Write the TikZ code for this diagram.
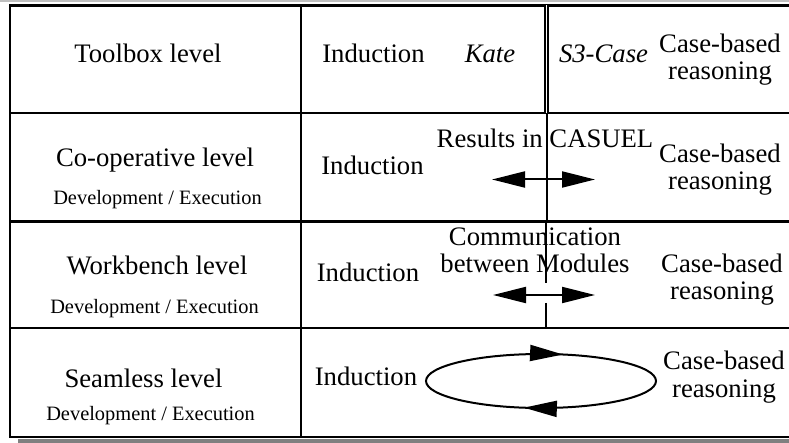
\documentclass[tikz,border=0pt]{standalone}
\usepackage{fontspec}
\setmainfont{Liberation Serif}
\usetikzlibrary{arrows.meta,decorations.markings}
\tikzset{
  rule/.style={line width=2.4pt},
  divider/.style={line width=2pt},
  txt/.style={anchor=base,inner sep=0pt,align=center,font=\fontsize{26.7}{27.5}\selectfont},
  sub/.style={anchor=base,inner sep=0pt,font=\fontsize{20.4}{22}\selectfont},
  bighead/.tip={Triangle[length=33pt,width=16pt]},
  flow/.style={line width=2pt,bighead-bighead},
}
\begin{document}
\begin{tikzpicture}[x=1pt,y=-1pt]
\useasboundingbox(0,0)rectangle(789,443);
% shadow and frame
\fill[black!50](18,439)rectangle(789,443);
\draw[black!25,line width=1.5pt](0,1)--(789,1);
\draw[rule](789,5.5)--(10,5.5)--(10,437)--(789,437);
\foreach \y in {113,221.5,328}\draw[rule](10,\y)--(789,\y);
\draw[rule](301,5.5)--(301,437);
% toolbox level
\node[txt](tbx)at(148,63){Toolbox level};
\node[txt](tbxind)at(373.5,63){Induction};\node[txt](kate)at(490,63){\itshape Kate};
\node[txt](s3c)at(603.5,63){\itshape S3-Case};\node[txt](tbxcbr)at(720,80){Case-based\\reasoning};
\draw[line width=2.2pt,double,double distance=1.2pt](546.5,5.5)--(546.5,113);
% co-operative level
\node[txt](coop)at(155,167){Co-operative level};\node[sub](coopdev)at(157.5,205){Development / Execution};
\node[txt](coopind)at(372.5,175){Induction};\node[txt](res)at(545,148){Results in CASUEL};
\node[txt](coopcbr)at(720,190){Case-based\\reasoning};
\draw[divider](547,113)--(547,221.5);
\coordinate(resL)at(492,179.5);\coordinate(resR)at(595,179.5);
\draw[flow](resL)--(resR);
% workbench level
\node[txt](wbench)at(157,275){Workbench level};\node[sub](wbdev)at(154.5,313){Development / Execution};
\node[txt](wbind)at(368,282){Induction};\node[txt](comm)at(535,273){Communication\\between Modules};
\node[txt](wbcbr)at(722,300){Case-based\\reasoning};
\draw[divider](546,221.5)--(546,283);\draw[divider](546,303)--(546,328);
\coordinate(comL)at(493,295);\coordinate(comR)at(595,295);
\draw[flow](comL)--(comR);
% seamless level
\node[txt](seam)at(143.5,387){Seamless level};\node[sub](smdev)at(150.5,420){Development / Execution};
\node[txt](smind)at(366,385){Induction};\node[txt](smcbr)at(724,397){Case-based\\reasoning};
\coordinate(cyc)at(541,381);
\draw[line width=2pt,postaction={decorate},decoration={markings,
  mark=at position .285 with {\arrow{bighead}},mark=at position .795 with {\arrow{bighead}}}]
  (cyc)ellipse[x radius=115,y radius=27];
\end{tikzpicture}
\end{document}
